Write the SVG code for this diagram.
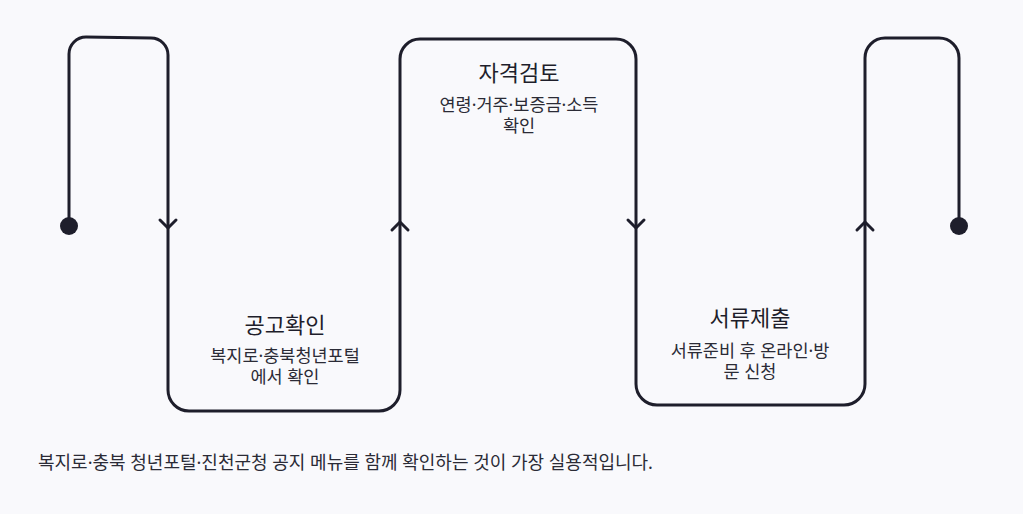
<svg xmlns="http://www.w3.org/2000/svg" width="1023" height="514" viewBox="0 0 1023 514">
<style>
.bg{fill:#f9f9fc}
.ln{fill:none;stroke:#1e1e2b;stroke-width:3;stroke-linecap:round;stroke-linejoin:round}
.dot{fill:#1e1e2b}
text{font-family:"Noto Sans","Noto Sans CJK KR",sans-serif;text-anchor:middle}
.t{font-size:22px;fill:#1e1e2b}
.s{font-size:17.5px;fill:#2b2b36}
.foot{font-size:18px;fill:#2b2b36;text-anchor:start}
</style>
<rect class="bg" width="1023" height="514"/>
<g id="connectors">
<path class="ln" d="M69,226 V54 A17,17 0 0 1 86,37 L151,38 A17,17 0 0 1 168,55 V390 A21,21 0 0 0 189,411 H379 A21,21 0 0 0 400,390 V59 A20,20 0 0 1 420,39 H616 A20,20 0 0 1 636,59 V384 A21,21 0 0 0 657,405 H844 A21,21 0 0 0 865,384 V58 A20,20 0 0 1 885,38 H939 A20,20 0 0 1 959,58 V226"/>
<circle class="dot" cx="69" cy="226" r="9"/>
<circle class="dot" cx="959" cy="226" r="9"/>
<polyline class="ln" points="160,220 168,228 176,220"/>
<polyline class="ln" points="392,230 400,222 408,230"/>
<polyline class="ln" points="628,220 636,228 644,220"/>
<polyline class="ln" points="857,230 865,222 873,230"/>
</g>
<g id="node-notice">
<text class="t" x="285" y="333">공고확인</text>
<text class="s" x="285" y="361.5">복지로·충북청년포털</text>
<text class="s" x="285" y="382.5">에서 확인</text>
</g>
<g id="node-review">
<text class="t" x="519" y="81">자격검토</text>
<text class="s" x="519" y="110.5">연령·거주·보증금·소득</text>
<text class="s" x="519" y="131.5">확인</text>
</g>
<g id="node-submit">
<text class="t" x="750" y="326">서류제출</text>
<text class="s" x="750" y="356.5">서류준비 후 온라인·방</text>
<text class="s" x="750" y="377.5">문 신청</text>
</g>
<g id="footer">
<text class="foot" x="38" y="469">복지로·충북 청년포털·진천군청 공지 메뉴를 함께 확인하는 것이 가장 실용적입니다.</text>
</g>
</svg>
